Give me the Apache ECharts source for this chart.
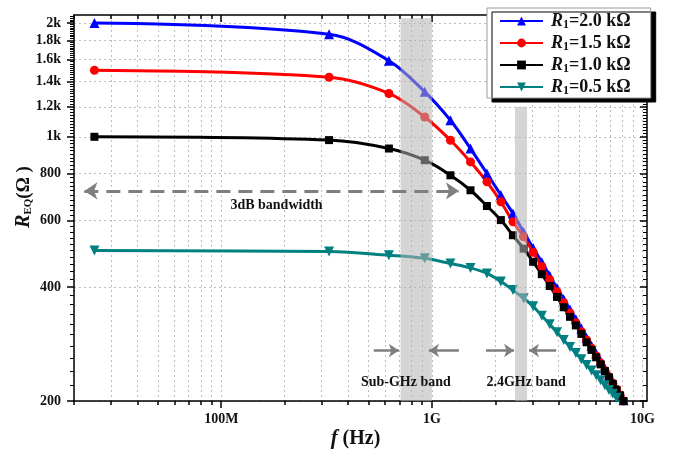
<!DOCTYPE html>
<html><head><meta charset="utf-8">
<script src="https://cdn.jsdelivr.net/npm/echarts@6/dist/echarts.min.js"></script>
<style>html,body{margin:0;padding:0;background:#fff}#c{width:674px;height:457px}</style>
</head><body><div id="c"></div>
<script>
// ---- data (frequency in Hz, R_EQ in ohm) ----
const freqHz = [25e6, 325e6, 625e6, 925e6, 1225e6, 1525e6, 1825e6, 2125e6, 2425e6, 2725e6,
  3025e6, 3325e6, 3625e6, 3925e6, 4225e6, 4525e6, 4825e6, 5125e6, 5425e6, 5725e6,
  6025e6, 6325e6, 6625e6, 6925e6, 7225e6, 7525e6, 7825e6, 8125e6];
const r20 = [2000, 1867, 1590, 1315, 1106, 931, 800, 701, 627, 560, 508, 466, 429, 398, 372, 349, 329, 311, 294, 280, 267, 255, 244, 234, 225, 216, 208, 201];
const r15 = [1500, 1437, 1302, 1128, 979, 858, 760, 673, 596, 544, 495, 454, 419, 389, 364, 342, 322, 305, 290, 276, 263, 252, 241, 232, 223, 215, 207, 200];
const r10 = [1000, 980, 931, 867, 791, 722, 656, 602, 549, 506, 467, 433, 403, 377, 354, 334, 317, 301, 286, 273, 261, 250, 240, 231, 222, 214, 207, 200];
const r05 = [500, 497, 486, 477, 462, 450, 435, 414, 393, 374, 356, 336, 319, 304, 290, 278, 268, 258, 249, 241, 234, 227, 220, 214, 209, 204, 199, 194];
const seriesNames = ['R1=2.0 kΩ', 'R1=1.5 kΩ', 'R1=1.0 kΩ', 'R1=0.5 kΩ'];
const seriesLegendText = ['=2.0 kΩ', '=1.5 kΩ', '=1.0 kΩ', '=0.5 kΩ'];

// ---- axes / ticks ----
const xRange = [2e7, 1.05e10];
const yRange = [200, 2100];
const xMajor = [1e8, 1e9, 1e10];
const xMajorLabels = ['100M', '1G', '10G'];
const xMinor = [2e7,3e7,4e7,5e7,6e7,7e7,8e7,9e7, 2e8,3e8,4e8,5e8,6e8,7e8,8e8,9e8, 2e9,3e9,4e9,5e9,6e9,7e9,8e9,9e9];
const yMajor = [200, 400, 600, 800, 1000, 1200, 1400, 1600, 1800, 2000];
const yMajorLabels = ['200', '400', '600', '800', '1k', '1.2k', '1.4k', '1.6k', '1.8k', '2k'];
const yMinorStep = 20;

// ---- annotations (data units) ----
const bandSubGHz = [7.1e8, 1.0e9, 200, 2058];
const band24GHz = [2.48e9, 2.83e9, 200, 1200];
const bw3dB = [[2.24e7, 719], [1.344e9, 719]];
const bandArrows = [
  [[5.3e8, 272], [6.97e8, 272]],
  [[1.344e9, 272], [9.68e8, 272]],
  [[1.806e9, 272], [2.455e9, 272]],
  [[3.89e9, 272], [2.89e9, 272]]
];
const textNotes = [
  ['3dB bandwidth', 1.83e8, 659],
  ['Sub-GHz band', 7.52e8, 224.6],
  ['2.4GHz band', 2.8e9, 224.6]
];

const L = Math.log10;
const FONT = '"Liberation Serif", "Times New Roman", serif';
const yMinor = [];
for (let v = yRange[0] + yMinorStep; v < yRange[1]; v += yMinorStep) {
  if (yMajor.indexOf(v) < 0) yMinor.push(v);
}
const xAll = xMinor.concat(xMajor);

function baseAxis(range, extra) {
  return Object.assign({
    type: 'value', min: L(range[0]), max: L(range[1]),
    axisLine: { show: false },
    axisTick: { show: false },
    axisLabel: { show: false },
    splitLine: { show: false }
  }, extra);
}
const blackLine = { show: true, lineStyle: { color: '#000', width: 1.5 } };
function labelFrom(vals, labels) {
  return function (v) {
    for (let i = 0; i < vals.length; i++) if (Math.abs(L(vals[i]) - v) < 1e-6) return labels[i];
    return '';
  };
}
const gridLine = { show: true, lineStyle: { color: '#bdbdbd', width: 1, type: [2, 3] } };

const xAxes = [
  baseAxis(xRange, { position: 'bottom', axisLine: blackLine,
    axisTick: { show: true, customValues: xMajor.map(L), length: 7, lineStyle: { color: '#000', width: 1.5 } },
    axisLabel: { show: true, customValues: xMajor.map(L), formatter: labelFrom(xMajor, xMajorLabels), margin: 11,
      color: '#111', fontFamily: FONT, fontWeight: 'bold', fontSize: 14 },
    name: '{i|f}{n| (Hz)}', nameLocation: 'middle', nameGap: 27, nameMoveOverlap: false,
    nameTextStyle: { padding: [0, 10, 0, 0], rich: {
      i: { fontFamily: FONT, fontStyle: 'italic', fontWeight: 'bold', fontSize: 21, color: '#111' },
      n: { fontFamily: FONT, fontWeight: 'bold', fontSize: 20, color: '#111' } } }
  }),
  baseAxis(xRange, { position: 'bottom',
    axisTick: { show: true, customValues: xAll.map(L), length: 4, lineStyle: { color: '#000', width: 1.5 } },
    splitLine: gridLine }),
  baseAxis(xRange, { position: 'top', axisLine: blackLine,
    axisTick: { show: true, inside: true, customValues: xAll.map(L), length: 4, lineStyle: { color: '#000', width: 1.5 } } }),
  baseAxis(xRange, { position: 'top',
    axisTick: { show: true, inside: true, customValues: xMajor.map(L), length: 7, lineStyle: { color: '#000', width: 1.5 } } })
];
const yAxes = [
  baseAxis(yRange, { position: 'left', axisLine: blackLine,
    axisTick: { show: true, customValues: yMajor.map(L), length: 7, lineStyle: { color: '#000', width: 1.5 } },
    axisLabel: { show: true, customValues: yMajor.map(L), formatter: labelFrom(yMajor, yMajorLabels), margin: 13,
      color: '#111', fontFamily: FONT, fontWeight: 'bold', fontSize: 14 },
    splitLine: gridLine,
    name: '{i|R}{s|EQ}{n|(Ω )}', nameLocation: 'middle', nameGap: 40, nameMoveOverlap: false,
    nameTextStyle: { padding: [0, 0, 0, 22], rich: {
      i: { fontFamily: FONT, fontStyle: 'italic', fontWeight: 'bold', fontSize: 20, color: '#111' },
      s: { fontFamily: FONT, fontWeight: 'bold', fontSize: 11, color: '#111', verticalAlign: 'bottom' },
      n: { fontFamily: FONT, fontWeight: 'bold', fontSize: 19, color: '#111' } } }
  }),
  baseAxis(yRange, { position: 'left',
    axisTick: { show: true, customValues: yMinor.map(L), length: 4, lineStyle: { color: '#000', width: 1 } } }),
  baseAxis(yRange, { position: 'right', axisLine: blackLine,
    axisTick: { show: true, inside: true, customValues: yMajor.map(L), length: 7, lineStyle: { color: '#000', width: 1.5 } } }),
  baseAxis(yRange, { position: 'right',
    axisTick: { show: true, inside: true, customValues: yMinor.map(L), length: 4, lineStyle: { color: '#000', width: 1 } } })
];

const colors = ['#0000ff', '#ff0000', '#000000', '#008080'];
const symbols = ['triangle', 'circle', 'rect', 'triangle'];
const symbolRot = [0, 0, 0, 180];
const symbolSizes = [10, 9, 8, 10];
const vals = [r20, r15, r10, r05];

const series = vals.map((arr, si) => ({
  type: 'line', name: seriesNames[si],
  data: freqHz.map((f, i) => [L(f), L(arr[i])]),
  smooth: 0.35,
  symbol: symbols[si], symbolRotate: symbolRot[si], symbolSize: symbolSizes[si],
  lineStyle: { color: colors[si], width: 3 },
  itemStyle: { color: colors[si] },
  clip: true, silent: true, z: 2
}));

const gray = '#7f7f7f';
series.push({
  type: 'line', name: 'bands', data: [], silent: true, z: 6,
  markArea: { silent: true, z: 6, itemStyle: { color: 'rgba(178,178,178,0.55)', borderWidth: 0 },
    data: [bandSubGHz, band24GHz].map(b => [{ coord: [L(b[0]), L(b[2])] }, { coord: [L(b[1]), L(b[3])] }]) }
});
series.push({
  type: 'line', name: 'bw', data: [], silent: true, z: 7,
  markLine: { silent: true, z: 7, symbol: ['arrow', 'arrow'], symbolSize: 13, label: { show: false },
    lineStyle: { color: gray, width: 3, type: [14, 8] },
    data: [[{ coord: [L(bw3dB[0][0]), L(bw3dB[0][1])] }, { coord: [L(bw3dB[1][0]), L(bw3dB[1][1])] }]] }
});
series.push({
  type: 'line', name: 'arrows', data: [], silent: true, z: 7,
  markLine: { silent: true, z: 7, symbol: ['none', 'arrow'], symbolSize: 10, label: { show: false },
    lineStyle: { color: gray, width: 2.5, type: 'solid' },
    data: bandArrows.map(a => [{ coord: [L(a[0][0]), L(a[0][1])] }, { coord: [L(a[1][0]), L(a[1][1])] }]) }
});
series.push({
  type: 'line', name: 'notes', data: [], silent: true, z: 8,
  markPoint: { silent: true, z: 8, symbol: 'circle', symbolSize: 1, itemStyle: { color: 'rgba(0,0,0,0)' },
    label: { show: true, position: 'inside', formatter: '{b}', color: '#111', fontFamily: FONT, fontWeight: 'bold', fontSize: 14 },
    data: textNotes.map(t => ({ name: t[0], coord: [L(t[1]), L(t[2])] })) }
});

const legendRich = {
  i: { fontFamily: FONT, fontStyle: 'italic', fontWeight: 'bold', fontSize: 18, color: '#111', lineHeight: 20 },
  s: { fontFamily: FONT, fontWeight: 'bold', fontSize: 12, color: '#111', verticalAlign: 'bottom', lineHeight: 20 },
  n: { fontFamily: FONT, fontWeight: 'bold', fontSize: 18, color: '#111', lineHeight: 20 }
};

const chart = echarts.init(document.getElementById('c'), null, { renderer: 'canvas' });
chart.setOption({
  animation: false,
  backgroundColor: '#fff',
  textStyle: { fontFamily: FONT },
  grid: { left: 74, right: 27, top: 15, bottom: 56, containLabel: false, outerBoundsMode: 'none' },
  xAxis: xAxes,
  yAxis: yAxes,
  legend: {
    data: seriesNames, orient: 'vertical', left: 487, top: 8,
    padding: [3, 20, 1, 12], itemWidth: 43, itemHeight: 11, itemGap: 2,
    backgroundColor: '#fff', borderColor: '#9a9a9a', borderWidth: 1,
    shadowColor: '#000', shadowBlur: 0, shadowOffsetX: 5, shadowOffsetY: 4,
    selectedMode: false,
    formatter: function (name) { const i = seriesNames.indexOf(name); return '{i|R}{s|1}{n|' + seriesLegendText[i] + '}'; },
    textStyle: { padding: [0, 0, 0, 3], lineHeight: 20, rich: legendRich }
  },
  series: series
});
</script></body></html>
